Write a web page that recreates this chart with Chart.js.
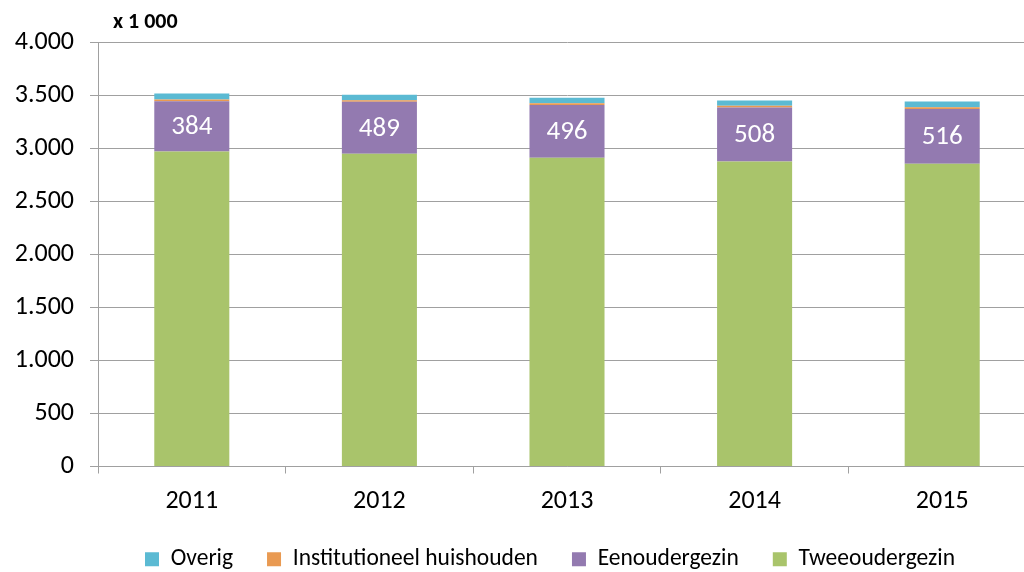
<!DOCTYPE html>
<html>
<head>
<meta charset="utf-8">
<script src="https://cdn.jsdelivr.net/npm/chart.js@4/dist/chart.umd.min.js"></script>
<style>
  html, body { margin: 0; padding: 0; background: #fff; overflow: hidden; }
  #wrap { width: 1100px; height: 572px; }
</style>
</head>
<body>
<div id="wrap"><canvas id="huishoudChart" width="1100" height="572"></canvas></div>
<script>
// jaren en waarden (x 1 000)
const years = ['2011', '2012', '2013', '2014', '2015'];
const tweeoudergezin = [2969, 2947, 2910, 2875, 2853];
const eenoudergezin = [473, 489, 496, 508, 516];
const institutioneel = [17, 16, 16, 16, 16];
const overig = [55, 52, 52, 50, 55];
// getoonde labels in het paarse segment (zoals in het origineel)
const eenouderLabels = ['384', '489', '496', '508', '516'];
const yTickValues = [0, 500, 1000, 1500, 2000, 2500, 3000, 3500, 4000];

const FONT = 'Carlito, Lato, "Open Sans", sans-serif';
const gridGray = '#a0a0a0';

function formatNL(v) {
    // 4000 -> 4.000
    const s = String(v);
    return s.length > 3 ? s.slice(0, s.length - 3) + '.' + s.slice(-3) : s;
}

// labels in de paarse balken + eenheid linksboven
const extraText = {
    id: 'extraText',
    afterLayout(chart) {
        // legenda iets naar rechts, zoals in het origineel
        if (chart.legend) {
            chart.legend.left += 32;
            chart.legend.right += 32;
        }
    },
    afterDatasetsDraw(chart) {
        const ctx = chart.ctx;
        const meta = chart.getDatasetMeta(1);
        ctx.save();
        ctx.fillStyle = '#ffffff';
        ctx.font = '27px ' + FONT;
        ctx.textAlign = 'center';
        ctx.textBaseline = 'middle';
        meta.data.forEach((bar, i) => {
            const p = bar.getProps(['x', 'y', 'base'], true);
            ctx.fillText(eenouderLabels[i], p.x, (p.y + p.base) / 2 + 1);
        });
        ctx.fillStyle = '#000000';
        ctx.font = 'bold 22px ' + FONT;
        ctx.textAlign = 'left';
        ctx.fillText('x 1 000', chart.chartArea.left + 15, 22);
        ctx.restore();
    }
};

const ctx = document.getElementById('huishoudChart').getContext('2d');
new Chart(ctx, {
    type: 'bar',
    data: {
        labels: years,
        datasets: [
            { label: 'Tweeoudergezin', data: tweeoudergezin, backgroundColor: '#a9c46b' },
            { label: 'Eenoudergezin', data: eenoudergezin, backgroundColor: '#937ab0' },
            { label: 'Institutioneel huishouden', data: institutioneel, backgroundColor: '#e99a52' },
            { label: 'Overig', data: overig, backgroundColor: '#5bbad3' }
        ]
    },
    options: {
        responsive: false,
        animation: false,
        layout: { padding: { top: 42, right: 64, left: 0, bottom: -9 } },
        datasets: {
            bar: { categoryPercentage: 1, barPercentage: 0.4, borderWidth: 0 }
        },
        plugins: {
            legend: {
                position: 'bottom',
                reverse: true,
                labels: {
                    boxWidth: 14,
                    boxHeight: 14,
                    padding: 34,
                    color: '#000',
                    font: { family: FONT, size: 23.5 }
                }
            },
            tooltip: { enabled: false }
        },
        scales: {
            x: {
                stacked: true,
                grid: { drawOnChartArea: false, tickLength: 7, color: gridGray },
                border: { color: gridGray },
                ticks: { color: '#000', padding: 12, font: { family: FONT, size: 26 } },
                afterFit(scale) { scale.height = 47; }
            },
            y: {
                stacked: true,
                min: 0,
                max: 4000,
                afterBuildTicks(scale) { scale.ticks = yTickValues.map(v => ({ value: v })); },
                grid: { color: gridGray, tickLength: 8 },
                border: { color: gridGray },
                ticks: {
                    color: '#000',
                    padding: 16,
                    font: { family: FONT, size: 26 },
                    callback: v => formatNL(v)
                },
                afterFit(scale) { scale.width = 98; }
            }
        }
    },
    plugins: [extraText]
});
</script>
</body>
</html>
